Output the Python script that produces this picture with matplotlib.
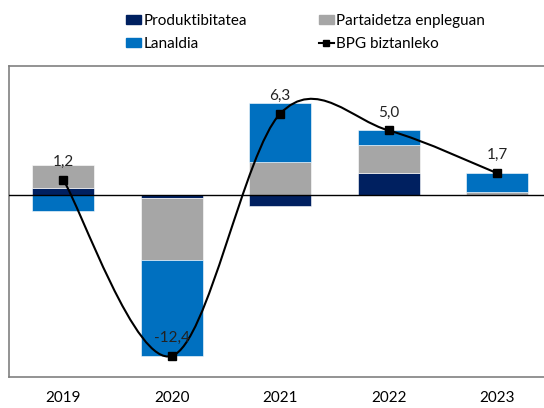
import numpy as np
import matplotlib
matplotlib.use("Agg")
import matplotlib.pyplot as plt
from matplotlib.path import Path
from matplotlib.patches import PathPatch, Patch
from matplotlib.lines import Line2D

plt.rcParams['font.family'] = ['Lato', 'DejaVu Sans']

years = ['2019', '2020', '2021', '2022', '2023']
produktibitatea = [0.55, -0.2, -0.8, 1.75, 0.05]
partaidetza = [1.8, -4.8, 2.6, 2.15, 0.2]
lanaldia = [-1.2, -7.4, 4.5, 1.1, 1.45]
bpg = [1.2, -12.4, 6.3, 5.0, 1.7]
bpg_labels = ['1,2', '-12,4', '6,3', '5,0', '1,7']

c_prod = '#002060'
c_part = '#A6A6A6'
c_lan = '#0070C0'

fig = plt.figure(figsize=(5.44, 4.08), dpi=100)
ax = fig.add_axes([9 / 544, 1 - 376.7 / 408, 542.5 / 544, (376.7 - 65.7) / 408])

x = np.arange(len(years))
width = 0.57

# stack positives up, negatives down
pos_base = np.zeros(len(years))
neg_base = np.zeros(len(years))
for vals, col in [(produktibitatea, c_prod), (partaidetza, c_part), (lanaldia, c_lan)]:
    vals = np.array(vals)
    bottoms = np.where(vals >= 0, pos_base, neg_base)
    ax.bar(x, vals, width, bottom=bottoms, color=col, edgecolor='white',
           linewidth=0.4, zorder=2)
    pos_base = pos_base + np.where(vals >= 0, vals, 0)
    neg_base = neg_base + np.where(vals < 0, vals, 0)

ax.axhline(0, color='black', linewidth=1, zorder=3)

# smoothed line (Catmull-Rom style Bezier, like the spreadsheet smoothing)
pts = np.column_stack([x, bpg]).astype(float)
verts = [tuple(pts[0])]
codes = [Path.MOVETO]
n = len(pts)
for i in range(n - 1):
    p0 = pts[i - 1] if i > 0 else pts[i]
    p1 = pts[i]
    p2 = pts[i + 1]
    p3 = pts[i + 2] if i + 2 < n else pts[i + 1]
    c1 = p1 + (p2 - p0) / 6
    c2 = p2 - (p3 - p1) / 6
    verts += [tuple(c1), tuple(c2), tuple(p2)]
    codes += [Path.CURVE4] * 3
ax.add_patch(PathPatch(Path(verts, codes), fill=False, edgecolor='black',
                       linewidth=1.5, zorder=4))
ax.plot(x, bpg, linestyle='none', marker='s', markersize=6, color='black', zorder=5)

for xi, yi, lab in zip(x, bpg, bpg_labels):
    ax.annotate(lab, (xi, yi), xytext=(0, 13), textcoords='offset points',
                ha='center', va='center', fontsize=11, color='#222222', zorder=6)

ax.set_xlim(-0.5, len(years) - 0.5)
ax.set_ylim(-14, 10)
ax.set_xticks(x)
ax.set_xticklabels(years, fontsize=11)
ax.tick_params(axis='x', length=0, pad=10)
ax.set_yticks([])
for s in ax.spines.values():
    s.set_color('#808080')
    s.set_linewidth(1.2)

handles = [
    Patch(color=c_prod, label='Produktibitatea'),
    Patch(color=c_lan, label='Lanaldia'),
    Patch(color=c_part, label='Partaidetza enpleguan'),
    Line2D([], [], color='black', marker='s', markersize=5, label='BPG biztanleko'),
]
fig.legend(handles=handles, ncol=2, loc='upper left', bbox_to_anchor=(112 / 544, 1.0),
           frameon=False, fontsize=11, handlelength=1.0, handleheight=0.6,
           handletextpad=0.15, columnspacing=4.7, labelspacing=0.6)

fig.savefig('out.png', dpi=100)
